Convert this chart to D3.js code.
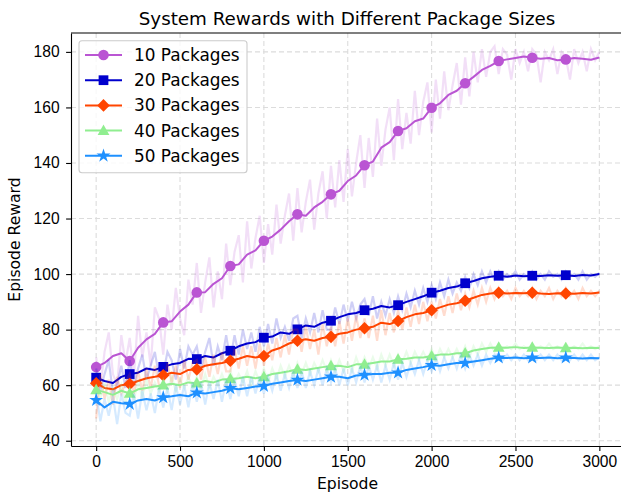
<!DOCTYPE html>
<html lang="en">
<head>
<meta charset="UTF-8">
<title>System Rewards with Different Package Sizes</title>
<script src="https://cdnjs.cloudflare.com/ajax/libs/d3/7.8.5/d3.min.js"></script>
<style>
  body { margin: 0; background: #fff; }
  svg { display: block; font-family: "DejaVu Sans", sans-serif; }
  .tick text { font-size: 15.6px; fill: #000; }
  .tick line, .domain { stroke: #000; stroke-width: 1.1px; }
</style>
</head>
<body>
<div id="chart"></div>
<script>
// Smoothed curves, one value every 50 episodes (0..3000)
const lineStep = 50;
const line10 = [66.5,68.0,70.5,71.5, 68.7,73.5,76.5,78.5, 82.6,83.0,86.5,89.0, 93.4,93.5,96.5,98.5,
  102.9,103.5,107.0,108.5, 112.0,113.5,116.0,119.0, 121.5,121.0,124.0,126.0, 128.7,130.0,133.5,135.5,
  139.2,140.5,145.5,147.5, 151.5,152.5,155.0,156.0, 159.9,161.5,164.5,166.0, 168.7,171.0,173.5,175.0,
  176.7,177.3,177.8,178.3, 177.9,177.5,177.8,177.0, 177.3,177.8,177.5,177.2, 178.0];
const line20 = [62.7,61.5,60.8,63.0, 64.0,64.5,66.0,65.5, 66.6,67.5,68.0,69.5, 69.4,70.5,70.0,71.5,
  72.4,74.0,75.0,75.5, 77.1,77.5,79.0,78.5, 80.1,81.5,81.0,82.5, 83.2,84.5,85.5,86.0,
  87.0,87.5,88.5,88.0, 88.8,90.0,91.0,92.0, 93.3,94.0,95.0,95.5, 96.7,97.5,98.5,99.0,
  99.4,99.0,99.5,99.2, 99.4,99.3,99.6,99.4, 99.6,99.3,99.7,99.5, 100.0];
const line30 = [60.7,59.0,58.5,60.0, 60.4,61.5,62.5,63.0, 63.6,64.5,64.0,65.5, 65.7,67.0,67.5,68.0,
  68.8,69.5,70.5,70.0, 70.5,72.5,73.5,75.0, 76.0,76.5,76.0,77.0, 77.4,78.5,79.0,80.0,
  80.5,81.0,82.5,82.0, 83.1,84.5,85.5,86.0, 87.0,88.0,89.0,89.5, 90.4,91.5,92.5,93.0,
  93.3,93.0,93.2,93.1, 93.3,93.0,92.8,93.1, 93.0,92.9,93.2,93.0, 93.4];
const line40 = [58.3,57.5,56.5,58.0, 57.0,58.5,59.0,59.5, 60.0,60.5,60.0,61.0, 60.7,61.5,61.0,62.0,
  62.2,62.5,63.0,62.5, 63.0,64.0,64.5,65.0, 65.7,65.5,66.0,66.5, 66.9,67.0,66.5,67.5,
  67.5,68.0,68.5,68.5, 69.3,69.5,70.0,70.0, 70.5,71.0,71.0,71.5, 71.5,72.5,73.0,73.5,
  73.6,73.5,73.7,73.4, 73.6,73.5,73.4,73.6, 73.4,73.5,73.3,73.5, 73.4];
const line50 = [54.6,52.0,54.0,53.5, 53.2,54.5,55.0,54.5, 55.6,56.0,56.5,56.0, 57.3,57.0,57.5,58.0,
  58.9,58.5,59.0,59.5, 59.7,60.5,61.0,61.5, 61.9,61.5,62.0,62.5, 63.0,63.0,62.5,63.5,
  63.7,64.0,64.0,64.5, 64.5,65.5,66.0,66.5, 67.2,67.0,67.5,68.0, 68.0,68.5,69.0,69.5,
  69.9,69.8,70.0,69.7, 69.9,69.8,70.0,69.7, 69.9,69.8,69.6,69.8, 69.7];

// Raw episode rewards, one value every 25 episodes (0..3000)
const rawStep = 25;
const raw10 = [70,59,72,79,64,60,78,68, 77,63,85,70,79,67,88,84, 71,89,80,95,84,78,98,89,
  104,86,97,106,88,101,91,111, 96,108,114,97,119,102,113,121, 104,118,107,125,111,121,129,112,
  131,115,126,134,116,129,137,120, 139,124,141,126,145,128,140,150, 131,149,135,156,139,152,160,141,
  163,145,158,147,166,150,162,169, 151,170,156,173,159,168,176,161, 178,164,180,169,181,171,180,182,
  172,181,179,170,181,176,180,173, 181,179,169,180,177,181,172,180, 178,170,181,176,180,173,181,177, 180];
const raw20 = [66,58,64,69,57,60,67,59, 69,60,66,71,62,67,72,63, 64,72,69,62,73,66,74,71,
  74,66,72,77,67,74,69,78, 69,78,71,80,73,79,72,81, 74,82,75,84,77,81,76,84,
  85,77,84,79,86,79,87,80, 80,88,82,89,83,90,84,89, 91,85,92,84,90,85,91,86,
  92,87,93,88,94,89,95,90, 96,91,97,92,98,93,97,94, 99,95,100,96,101,97,101,98,
  101,98,100,99,101,98,100,99, 101,98,100,98,101,99,100,98, 101,99,100,98,101,98,100,99, 100.5];
const raw30 = [48,64,55,62,53,63,57,61, 64,57,65,58,66,59,67,60, 60,68,61,67,59,69,62,68,
  69,62,70,63,71,64,72,65, 65,73,66,74,67,74,66,75, 67,75,69,77,70,78,71,80,
  80,72,81,73,80,71,82,74, 81,74,83,75,84,76,85,77, 84,77,85,76,87,78,86,79,
  87,80,88,81,89,82,90,83, 90,84,91,85,92,86,93,87, 93,88,94,89,95,90,95,91,
  95,92,94,91,95,92,94,92, 95,91,94,92,95,91,94,92, 95,92,94,91,95,92,94,92, 94];
const raw40 = [60,55,61,54,59,55,60,54, 59,55,61,56,62,57,61,58, 62,58,63,58,62,59,63,59,
  63,59,64,59,63,60,64,60, 65,61,64,61,65,60,65,61, 66,61,66,62,67,63,67,63,
  68,64,68,64,68,65,69,65, 69,65,69,65,68,65,70,66, 70,66,70,66,71,67,71,67,
  71,68,72,68,72,69,72,69, 73,69,73,70,73,70,73,70, 74,70,74,71,75,72,75,72,
  75,73,74,73,75,73,74,73, 75,73,74,73,75,73,74,73, 75,73,74,73,75,73,74,73, 74];
const raw50 = [57,47,55,49,56,46,57,50, 49,57,48,58,51,57,50,59, 52,59,51,60,53,60,52,61,
  54,61,53,61,55,62,54,62, 55,62,56,63,56,63,57,63, 57,63,58,64,58,64,59,65,
  59,65,59,65,60,66,60,66, 61,66,60,66,60,66,61,67, 61,67,62,67,61,67,62,68,
  62,68,63,68,64,69,64,69, 65,70,65,70,66,70,66,71, 66,71,67,71,67,71,68,71,
  71,69,71,69,71,69,71,69, 71,69,71,69,71,69,71,69, 71,69,71,69,71,69,71,69, 70];

const labels = ["10 Packages", "20 Packages", "30 Packages", "40 Packages", "50 Packages"];
const colors = ["#BA55D3", "#0000CD", "#FF4500", "#90EE90", "#1E90FF"];
const markers = ["circle", "square", "diamond", "triangle", "star"];
const xTicks = [0, 500, 1000, 1500, 2000, 2500, 3000];
const yTicks = [40, 60, 80, 100, 120, 140, 160, 180];
const markEvery = 200;

const series = labels.map((name, i) => ({
  name, color: colors[i], marker: markers[i],
  line: [line10, line20, line30, line40, line50][i].map((v, j) => ({ x: j * lineStep, y: v })),
  raw: [raw10, raw20, raw30, raw40, raw50][i].map((v, j) => ({ x: j * rawStep, y: v }))
}));

const W = 621, H = 495;
const plot = { left: 71, right: 624.5, top: 33, bottom: 446 };

const svg = d3.select("#chart").append("svg")
  .attr("width", W).attr("height", H);

const x = d3.scaleLinear().domain([-150, 3150]).range([plot.left, plot.right]);
const y = d3.scaleLinear().domain([38.1, 186.8]).range([plot.bottom, plot.top]);

// grid
const grid = svg.append("g").attr("stroke", "#dcdcdc").attr("stroke-width", 1.1)
  .attr("stroke-dasharray", "5,3");
grid.selectAll(".gx").data(xTicks).join("line")
  .attr("x1", d => x(d)).attr("x2", d => x(d)).attr("y1", plot.top).attr("y2", plot.bottom);
grid.selectAll(".gy").data(yTicks).join("line")
  .attr("y1", d => y(d)).attr("y2", d => y(d)).attr("x1", plot.left).attr("x2", plot.right);

function markerPath(type) {
  if (type === "circle") return d3.symbol(d3.symbolCircle, 88)();
  if (type === "square") return d3.symbol(d3.symbolSquare, 95)();
  if (type === "diamond") return "M0,-6.3L6.3,0L0,6.3L-6.3,0Z";
  if (type === "triangle") return "M0,-6.2L5.9,4.3L-5.9,4.3Z";
  return d3.symbol(d3.symbolStar, 60)();
}

const lineGen = d3.line().x(d => x(d.x)).y(d => y(d.y));

series.forEach(s => {
  svg.append("path").datum(s.raw)
    .attr("fill", "none").attr("stroke", s.color).attr("stroke-opacity", 0.19)
    .attr("stroke-width", 2.2).attr("d", lineGen);
  svg.append("path").datum(s.line)
    .attr("fill", "none").attr("stroke", s.color)
    .attr("stroke-width", 2).attr("stroke-linejoin", "round").attr("d", lineGen);
  svg.append("g").selectAll("path")
    .data(s.line.filter(d => d.x % markEvery === 0 && d.x < 3000))
    .join("path")
    .attr("d", markerPath(s.marker))
    .attr("transform", d => `translate(${x(d.x)},${y(d.y)})`)
    .attr("fill", s.color);
});

// axes
svg.append("g").attr("transform", `translate(0,${plot.bottom})`)
  .call(d3.axisBottom(x).tickValues(xTicks).tickFormat(d3.format("d"))
    .tickSize(4.9).tickSizeOuter(0).tickPadding(5.5))
  .call(g => g.selectAll(".tick text").attr("font-family", null));
svg.append("g").attr("transform", `translate(${plot.left},0)`)
  .call(d3.axisLeft(y).tickValues(yTicks).tickSize(4.9).tickSizeOuter(0).tickPadding(6.5))
  .call(g => g.selectAll(".tick text").attr("font-family", null));
svg.append("line").attr("x1", plot.left).attr("x2", plot.right)
  .attr("y1", plot.top).attr("y2", plot.top).attr("stroke", "#000").attr("stroke-width", 1.1);

// titles
svg.append("text").attr("x", 347).attr("y", 24.5).attr("text-anchor", "middle")
  .attr("font-size", "18.3px").text("System Rewards with Different Package Sizes");
svg.append("text").attr("x", 347.5).attr("y", 489).attr("text-anchor", "middle")
  .attr("font-size", "15.6px").text("Episode");
svg.append("text").attr("transform", "translate(20,239.5) rotate(-90)")
  .attr("text-anchor", "middle").attr("font-size", "15.6px").text("Episode Reward");

// legend
const legend = svg.append("g");
legend.append("rect").attr("x", 79).attr("y", 40.7).attr("width", 168).attr("height", 132)
  .attr("rx", 3).attr("fill", "#fff").attr("fill-opacity", 0.8)
  .attr("stroke", "#cccccc").attr("stroke-width", 1.1);
series.forEach((s, i) => {
  const cy = 55 + i * 25.2;
  legend.append("line").attr("x1", 85).attr("x2", 122).attr("y1", cy).attr("y2", cy)
    .attr("stroke", s.color).attr("stroke-width", 2);
  legend.append("path").attr("d", markerPath(s.marker))
    .attr("transform", `translate(103.5,${cy})`).attr("fill", s.color);
  legend.append("text").attr("x", 134).attr("y", cy).attr("dy", "0.36em")
    .attr("font-size", "16.9px").text(s.name);
});
</script>
</body>
</html>
